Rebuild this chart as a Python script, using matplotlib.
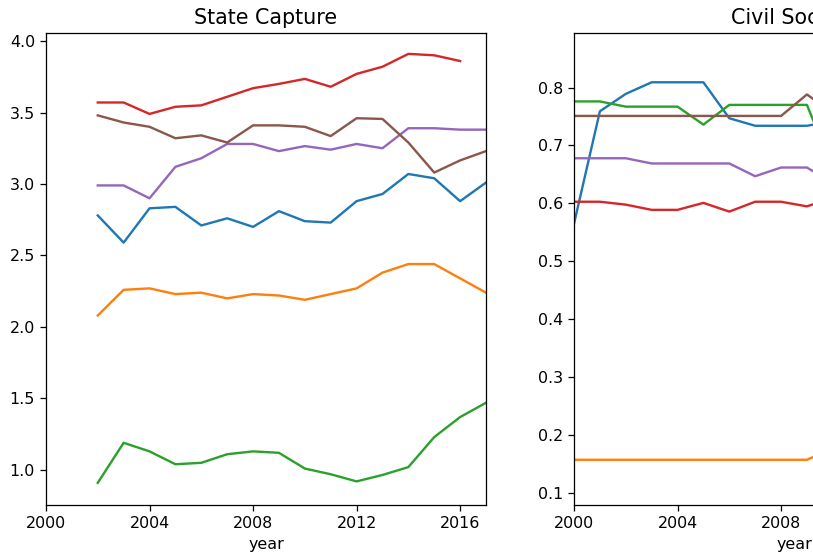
import matplotlib
matplotlib.use("Agg")
import matplotlib.pyplot as plt

# ---- data ----
years_sc = list(range(2002, 2018))
sc_blue = [2.78, 2.59, 2.83, 2.84, 2.71, 2.76, 2.70, 2.81, 2.74, 2.73, 2.88, 2.93, 3.07, 3.04, 2.88, 3.01]
sc_orange = [2.08, 2.26, 2.27, 2.23, 2.24, 2.20, 2.23, 2.22, 2.19, 2.23, 2.27, 2.38, 2.44, 2.44, 2.34, 2.24]
sc_green = [0.91, 1.19, 1.13, 1.04, 1.05, 1.11, 1.13, 1.12, 1.01, 0.97, 0.92, 0.965, 1.02, 1.23, 1.37, 1.47]
sc_red = [3.57, 3.57, 3.49, 3.54, 3.55, 3.61, 3.67, 3.70, 3.735, 3.68, 3.77, 3.82, 3.91, 3.90, 3.86]
sc_purple = [2.99, 2.99, 2.90, 3.12, 3.18, 3.28, 3.28, 3.23, 3.265, 3.24, 3.28, 3.25, 3.39, 3.39, 3.38, 3.38]
sc_brown = [3.48, 3.43, 3.40, 3.32, 3.34, 3.29, 3.41, 3.41, 3.40, 3.335, 3.46, 3.455, 3.29, 3.08, 3.165, 3.23]

years_cs = list(range(2000, 2011))
cs_blue = [0.565, 0.759, 0.789, 0.809, 0.809, 0.809, 0.747, 0.734, 0.734, 0.734, 0.742]
cs_orange = [0.158, 0.158, 0.158, 0.158, 0.158, 0.158, 0.158, 0.158, 0.158, 0.158, 0.178]
cs_green = [0.776, 0.776, 0.767, 0.767, 0.767, 0.736, 0.770, 0.770, 0.770, 0.770, 0.66]
cs_red = [0.603, 0.603, 0.598, 0.589, 0.589, 0.601, 0.586, 0.603, 0.603, 0.595, 0.61]
cs_purple = [0.678, 0.678, 0.678, 0.669, 0.669, 0.669, 0.669, 0.647, 0.662, 0.662, 0.635]
cs_brown = [0.751, 0.751, 0.751, 0.751, 0.751, 0.751, 0.751, 0.751, 0.751, 0.788, 0.756]

xticks = [2000, 2004, 2008, 2012, 2016]

DPI = 114
fig = plt.figure(figsize=(813 / DPI, 560 / DPI), dpi=DPI)

ax1 = fig.add_axes([46 / 813, 55 / 560, 440 / 813, 472 / 560])
ax2 = fig.add_axes([574 / 813, 55 / 560, 440 / 813, 472 / 560])

colors = ["C0", "C1", "C2", "C3", "C4", "C5"]
for series, c in zip([sc_blue, sc_orange, sc_green, sc_red, sc_purple, sc_brown], colors):
    ax1.plot(years_sc[:len(series)], series, color=c)
for series, c in zip([cs_blue, cs_orange, cs_green, cs_red, cs_purple, cs_brown], colors):
    ax2.plot(years_cs[:len(series)], series, color=c)

ax1.set_title("State Capture", fontsize=13)
ax1.set_xlabel("year")
ax1.set_xlim(2000, 2017)
ax1.set_ylim(0.755, 4.056)
ax1.set_xticks(xticks)
ax1.set_yticks([1.0, 1.5, 2.0, 2.5, 3.0, 3.5, 4.0])

ax2.set_title("Civil Society", fontsize=13)
ax2.set_xlabel("year")
ax2.set_xlim(2000, 2017)
ax2.set_ylim(0.08, 0.894)
ax2.set_xticks(xticks)
ax2.set_yticks([0.1, 0.2, 0.3, 0.4, 0.5, 0.6, 0.7, 0.8])

fig.savefig("out.png", dpi=DPI)
